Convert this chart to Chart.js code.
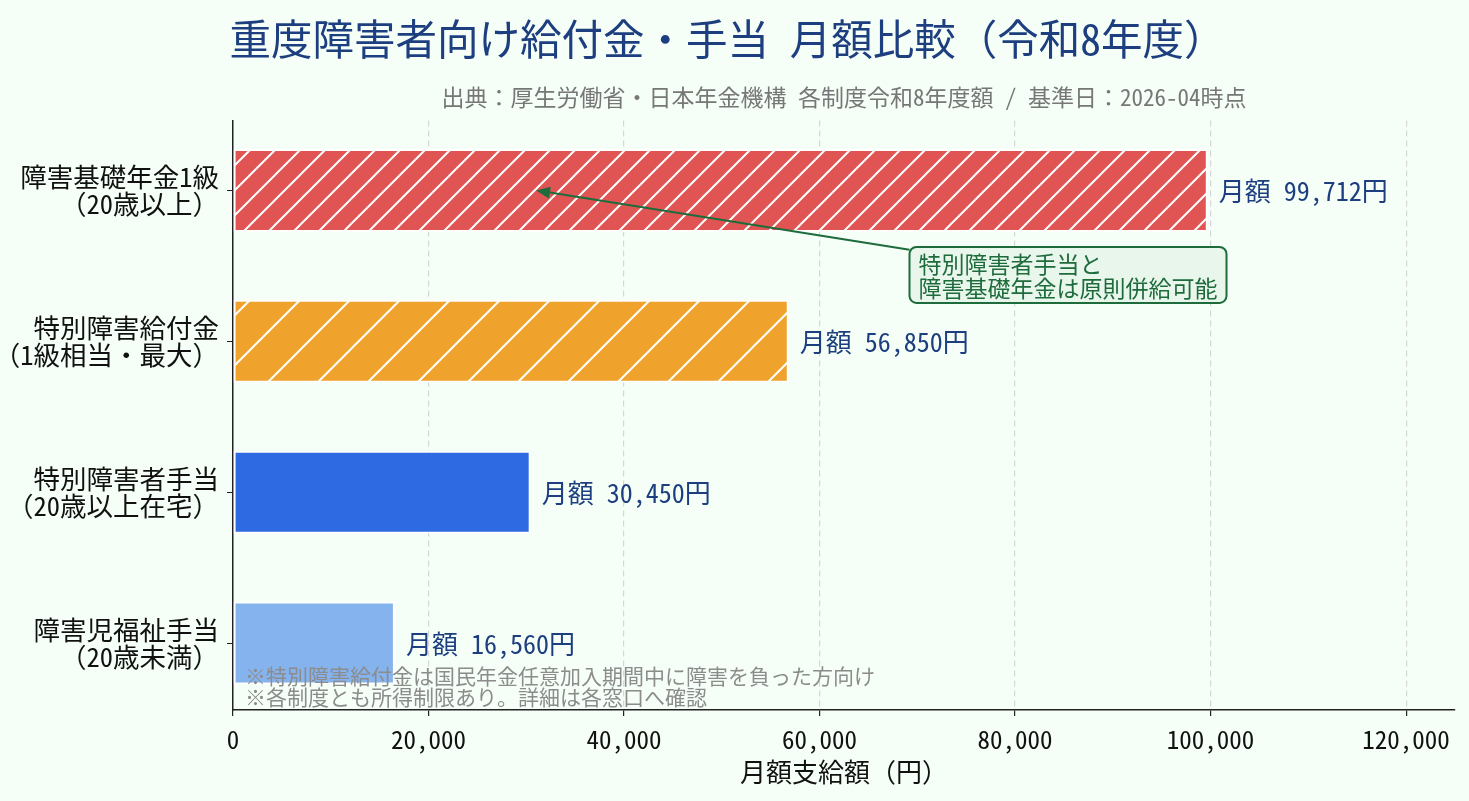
<!DOCTYPE html>
<html lang="ja">
<head>
<meta charset="utf-8">
<title>重度障害者向け給付金・手当 月額比較</title>
<script src="https://cdn.jsdelivr.net/npm/chart.js@4.4.1/dist/chart.umd.min.js"></script>
<style>
  html, body { margin: 0; padding: 0; background: #f5fff7; }
  #wrap { width: 1469px; height: 801px; }
</style>
</head>
<body>
<div id="wrap"><canvas id="benefitChart" width="1469" height="801"></canvas></div>
<script>
// data
const categories = [
    ['障害基礎年金1級', '（20歳以上）'],
    ['特別障害給付金', '（1級相当・最大）'],
    ['特別障害者手当', '（20歳以上在宅）'],
    ['障害児福祉手当', '（20歳未満）']
];
const monthlyAmounts = [99712, 56850, 30450, 16560];
const barColors = ['#e05454', '#f0a32c', '#2e6be3', '#85b3ee'];
const hatchSpacing = [25, 50, 0, 0];   // 0 = no hatch
const xTicks = [0, 20000, 40000, 60000, 80000, 100000, 120000];
const annotationLines = ['特別障害者手当と', '障害基礎年金は原則併給可能'];
const annotationTarget = [31000, 0];    // arrow tip (value, category)
const annotationAnchor = [69200, 0.56]; // box left / vertical centre
const footnotes = [
    '※特別障害給付金は国民年金任意加入期間中に障害を負った方向け',
    '※各制度とも所得制限あり。詳細は各窓口へ確認'
];

const FONT = "'Noto Sans Mono CJK JP', 'Noto Sans CJK JP', 'DejaVu Sans Mono', monospace";
const BG = '#f5fff7';
const NAVY = '#1d3f80';
const GREEN = '#1e6b3c';

Chart.defaults.font.family = FONT;

// white diagonal hatch on top of the bar colour
function makeHatch(color, step) {
    if (!step) return color;
    const c = document.createElement('canvas');
    c.width = step;
    c.height = step;
    const g = c.getContext('2d');
    g.fillStyle = color;
    g.fillRect(0, 0, step, step);
    g.strokeStyle = '#ffffff';
    g.lineWidth = 2;
    g.beginPath();
    g.moveTo(-2, step + 2); g.lineTo(step + 2, -2);
    g.moveTo(-2, 2); g.lineTo(2, -2);
    g.moveTo(step - 2, step + 2); g.lineTo(step + 2, step - 2);
    g.stroke();
    return g.createPattern(c, 'repeat');
}

const bgPlugin = {
    id: 'bg',
    beforeDraw(chart) {
        const ctx = chart.ctx;
        ctx.save();
        ctx.fillStyle = BG;
        ctx.fillRect(0, 0, chart.width, chart.height);
        ctx.restore();
    }
};

const labelsPlugin = {
    id: 'extras',
    afterDatasetsDraw(chart) {
        const {ctx, chartArea, scales} = chart;
        const meta = chart.getDatasetMeta(0);
        ctx.save();

        // value labels
        ctx.font = '26px ' + FONT;
        ctx.fillStyle = NAVY;
        ctx.textBaseline = 'middle';
        ctx.textAlign = 'left';
        meta.data.forEach((bar, i) => {
            ctx.fillText('月額 ' + monthlyAmounts[i].toLocaleString('en-US') + '円', bar.x + 11, bar.y + 1);
        });

        // annotation box + arrow
        ctx.font = '23px ' + FONT;
        const padX = 9, lineH = 24;
        const w = Math.max(...annotationLines.map(t => ctx.measureText(t).width)) + padX * 2;
        const h = annotationLines.length * lineH + 8;
        const bx = scales.x.getPixelForValue(annotationAnchor[0]);
        const by = scales.y.getPixelForValue(annotationAnchor[1]) - h / 2;
        const tipX = scales.x.getPixelForValue(annotationTarget[0]);
        const tipY = scales.y.getPixelForValue(annotationTarget[1]);
        const cx = bx + w / 2, cy = by + h / 2;
        const t = (cx - bx) / (cx - tipX);
        const sx = bx, sy = cy + (tipY - cy) * t;
        const ang = Math.atan2(tipY - sy, tipX - sx);
        const headL = 14, headW = 6;

        ctx.strokeStyle = GREEN;
        ctx.fillStyle = GREEN;
        ctx.lineWidth = 2;
        ctx.beginPath();
        ctx.moveTo(sx, sy);
        ctx.lineTo(tipX - Math.cos(ang) * headL, tipY - Math.sin(ang) * headL);
        ctx.stroke();
        ctx.beginPath();
        ctx.moveTo(tipX, tipY);
        ctx.lineTo(tipX - Math.cos(ang) * headL + Math.sin(ang) * headW, tipY - Math.sin(ang) * headL - Math.cos(ang) * headW);
        ctx.lineTo(tipX - Math.cos(ang) * headL - Math.sin(ang) * headW, tipY - Math.sin(ang) * headL + Math.cos(ang) * headW);
        ctx.closePath();
        ctx.fill();

        ctx.beginPath();
        ctx.roundRect(bx, by, w, h, 7);
        ctx.fillStyle = '#e8f6ec';
        ctx.fill();
        ctx.lineWidth = 2;
        ctx.stroke();
        ctx.fillStyle = GREEN;
        annotationLines.forEach((line, i) => {
            ctx.fillText(line, bx + padX, by + 5 + lineH * (i + 0.5));
        });

        // footnotes
        ctx.font = '21px ' + FONT;
        ctx.fillStyle = '#8c8c8c';
        footnotes.forEach((line, i) => {
            ctx.fillText(line, chartArea.left + 12, chartArea.bottom - 34 + i * 21);
        });
        ctx.restore();
    }
};

new Chart(document.getElementById('benefitChart'), {
    type: 'bar',
    data: {
        datasets: [{
            data: monthlyAmounts.map((v, i) => ({x: v, y: i})),
            backgroundColor: barColors.map((c, i) => makeHatch(c, hatchSpacing[i])),
            borderColor: '#ffffff',
            borderWidth: 2,
            borderSkipped: false,
            categoryPercentage: 1,
            barPercentage: 0.55
        }]
    },
    options: {
        indexAxis: 'y',
        responsive: false,
        animation: false,
        devicePixelRatio: 1,
        layout: { padding: { left: 0, right: 14, top: 0, bottom: 0 } },
        plugins: {
            legend: { display: false },
            tooltip: { enabled: false },
            title: {
                display: true,
                text: '重度障害者向け給付金・手当 月額比較（令和8年度）',
                color: NAVY,
                font: { size: 41.5, weight: 'normal' },
                padding: { top: 14, bottom: 0 }
            },
            subtitle: {
                display: true,
                fullSize: false,
                text: '出典：厚生労働省・日本年金機構 各制度令和8年度額 / 基準日：2026-04時点',
                color: '#777777',
                font: { size: 23 },
                padding: { top: 20, bottom: 9 }
            }
        },
        scales: {
            x: {
                type: 'linear',
                min: 0,
                max: 125000,
                afterBuildTicks: s => { s.ticks = xTicks.map(v => ({ value: v })); },
                afterFit: s => { s.height = 91; },
                ticks: {
                    color: '#111111',
                    font: { size: 25 },
                    padding: 8,
                    callback: v => v.toLocaleString('en-US')
                },
                grid: {
                    color: c => (c.tick && c.tick.value === 0) ? 'rgba(0,0,0,0)' : '#d6d6d6',
                    lineWidth: 1.2,
                    tickColor: '#222222',
                    tickLength: 6
                },
                border: { display: true, color: '#222222', width: 1.5, dash: [6, 4] },
                title: {
                    display: true,
                    text: '月額支給額（円）',
                    color: '#111111',
                    font: { size: 26 },
                    padding: { top: 4, bottom: 13 }
                }
            },
            y: {
                type: 'linear',
                reverse: true,
                offset: false,
                min: -0.464,
                max: 3.444,
                afterBuildTicks: s => { s.ticks = categories.map((c, i) => ({ value: i })); },
                afterFit: s => { s.width = 233; },
                ticks: {
                    color: '#111111',
                    font: { size: 26.5, lineHeight: 1.02 },
                    padding: 8,
                    callback: v => categories[v]
                },
                grid: { offset: false, drawOnChartArea: false, tickColor: '#222222', tickLength: 6 },
                border: { display: true, color: '#222222', width: 1.5 }
            }
        }
    },
    plugins: [bgPlugin, labelsPlugin]
});
</script>
</body>
</html>
